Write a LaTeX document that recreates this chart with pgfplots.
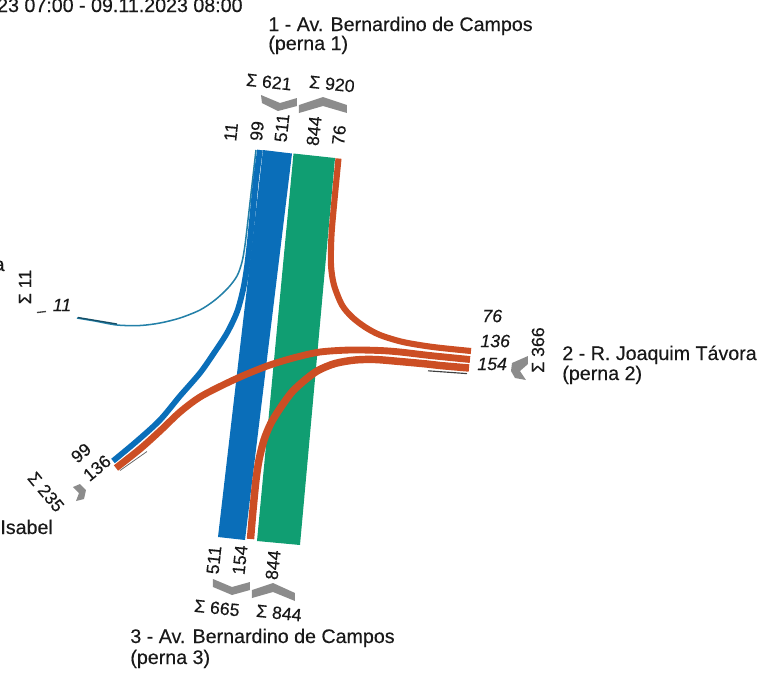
\documentclass[border=0pt]{standalone}
\usepackage{fontspec}
\setmainfont{Liberation Sans}[FakeBold=0.3]
\newcommand{\sig}{\char"03A3}
\usepackage{pgfplots}
\pgfplotsset{compat=1.18}
\definecolor{fblue}{RGB}{10,110,185}
\definecolor{fgreen}{RGB}{16,158,114}
\definecolor{forange}{RGB}{204,78,36}
\definecolor{fteal}{RGB}{35,128,168}
\definecolor{chev}{RGB}{140,140,140}
\definecolor{txt}{RGB}{25,25,25}
\begin{document}
\begin{tikzpicture}[
  lab/.style={font=\fontsize{10.3}{12}\selectfont, text=txt, inner sep=0pt},
  num/.style={font=\fontsize{9.3}{10}\selectfont, text=txt, inner sep=0pt}]
\path[use as bounding box] (0,0) rectangle (400pt,353.87pt);
\clip (0,0) rectangle (400pt,353.87pt);
\begin{axis}[at={(0,0)}, anchor=south west, width=400pt, height=353.87pt,
  scale only axis, xmin=0, xmax=763, ymin=0, ymax=675, y dir=reverse,
  hide axis, clip=false]
% --- flow 11 (leg 1 -> leg 5)
\addplot[fteal, line width=0.8pt, smooth, tension=0.5] coordinates {
 (256,150) (252,185) (248,220) (245,245) (242,262) (237,276) (228,288)
 (215,300) (200,310) (180,318) (160,323) (140,325.5) (117,325) (95,321) (77,318)};
% --- flow 99 (leg 1 -> leg 4)
\addplot[fblue, line width=3.0pt, smooth, tension=0.5] coordinates {
 (260,150) (256,180) (252.5,215) (249.5,245) (246.5,270) (243,290) (237,312)
 (227,333) (214,353) (200,373) (180,396) (160,420) (137,441) (113,461)};
% --- flow 511 (leg 1 -> leg 3)
\addplot[fill=fblue, draw=none] coordinates {
 (263,150) (292,153.5) (245,540) (218,537) (263,150)};
% --- flow 844 (leg 3 -> leg 1)
\addplot[fill=fgreen, draw=none] coordinates {
 (293.5,153.5) (335,158) (300,545) (257,541) (293.5,153.5)};
% --- flow 76 (leg 2 -> leg 1)
\addplot[forange, line width=3.2pt, smooth, tension=0.5] coordinates {
 (338.5,158.5) (334.5,200) (331.5,235) (331,265) (334,285) (342,305) (352,317)
 (365,327) (380,335) (403,342) (433,347) (471,351)};
% --- flow 136 (leg 2 -> leg 4)
\addplot[forange, line width=3.6pt, smooth, tension=0.5] coordinates {
 (470,359.5) (430,355.5) (400,352) (380,350.5) (350,350) (320,352) (295,357.5)
 (270,365) (247,374) (225,384) (200,397) (180,412) (160,431) (140,449) (116,468)};
% --- flow 154 (leg 2 -> leg 3)
\addplot[forange, line width=3.9pt, smooth, tension=0.5] coordinates {
 (469,368) (440,365.5) (427,364) (400,361.5) (375,359.5) (355,360) (335,363.5)
 (318,370.5) (305,380) (292,392) (281,407) (271,423) (264,440) (259,460)
 (256,480) (253,510) (250.5,539)};
% --- small dark strokes
\addplot[black!75, line width=0.6pt] coordinates {(428,370.8) (467,373.6)};
\addplot[fteal!60!black, line width=0.7pt] coordinates {(78,317.5) (117,324)};
\addplot[black!60, line width=0.4pt] coordinates {(120,470.5) (147,451.5)};
\addplot[black!75, line width=0.7pt] coordinates {(37,312.5) (46,311.5)};
% --- chevrons
\addplot[fill=chev, draw=none] coordinates {(261,95) (280,103) (297,98) (297,106) (278,111) (262,103) (261,95)};
\addplot[fill=chev, draw=none] coordinates {(299,105) (323,97) (347,105) (347,113) (323,106) (299,113) (299,105)};
\addplot[fill=chev, draw=none] coordinates {(213,579) (232,587) (250,582) (250,590) (232,595) (213,587) (213,579)};
\addplot[fill=chev, draw=none] coordinates {(252,590) (273,583) (295,593) (295,601) (273,592) (252,598) (252,590)};
\addplot[fill=chev, draw=none] coordinates {(528,356) (512,363) (511,371) (515,378) (526,380) (520,371) (528,364) (528,356)};
\addplot[fill=chev, draw=none] coordinates {(73,487) (80,484) (86,490) (84,499) (76,501) (79,493) (73,487)};
% --- texts
\node[lab, anchor=base east] at (axis cs:243,12) {09.11.2023 07:00 - 09.11.2023 08:00};
\node[lab, anchor=base west] at (axis cs:268,31) {1 - Av. Bernardino de Campos};
\node[lab, anchor=base west] at (axis cs:268,50) {(perna 1)};
\node[lab, anchor=base west] at (axis cs:562,360) {2 - R. Joaquim Távora};
\node[lab, anchor=base west] at (axis cs:562,380) {(perna 2)};
\node[lab, anchor=base west] at (axis cs:130,643) {3 - Av. Bernardino de Campos};
\node[lab, anchor=base west] at (axis cs:130,664) {(perna 3)};
\node[lab, anchor=base west] at (axis cs:0,534) {Isabel};
\node[lab, anchor=base east] at (axis cs:5,271) {a};
% leg 1 numbers
\node[num, rotate=84] at (axis cs:231,132) {11};
\node[num, rotate=84] at (axis cs:257,131) {99};
\node[num, rotate=84] at (axis cs:282,128) {511};
\node[num, rotate=84] at (axis cs:314,131) {844};
\node[num, rotate=84] at (axis cs:339,135) {76};
\node[num, rotate=-6] at (axis cs:269,82) {\sig\ 621};
\node[num, rotate=-6] at (axis cs:332,84) {\sig\ 920};
% leg 3 numbers
\node[num, rotate=84] at (axis cs:214,560) {511};
\node[num, rotate=84] at (axis cs:240,560) {154};
\node[num, rotate=84] at (axis cs:273,565) {844};
\node[num, rotate=-6] at (axis cs:217,608) {\sig\ 665};
\node[num, rotate=-6] at (axis cs:279,613) {\sig\ 844};
% leg 2 numbers
\node[num, anchor=west, font=\fontsize{9.3}{10}\selectfont\itshape] at (axis cs:482,316) {76};
\node[num, anchor=west, font=\fontsize{9.3}{10}\selectfont\itshape] at (axis cs:480,341) {136};
\node[num, anchor=west, font=\fontsize{9.3}{10}\selectfont\itshape] at (axis cs:477,364) {154};
\node[num, rotate=90] at (axis cs:538,350) {\sig\ 366};
% leg 4 numbers
\node[num, rotate=40] at (axis cs:81,453) {99};
\node[num, rotate=40] at (axis cs:97,468) {136};
\node[num, rotate=-50] at (axis cs:46,492) {\sig\ 235};
% leg 5 numbers
\node[num, rotate=90] at (axis cs:25,287) {\sig\ 11};
\node[num, font=\fontsize{9.3}{10}\selectfont\itshape] at (axis cs:62,305) {11};
\end{axis}
\end{tikzpicture}
\end{document}
